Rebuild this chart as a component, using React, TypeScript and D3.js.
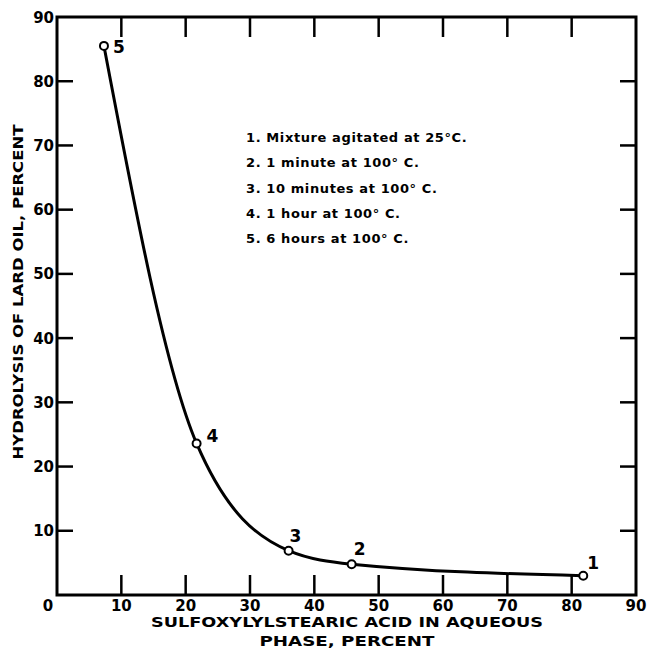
import React, { useRef, useEffect } from "react";
import * as d3 from "d3";

// points
const xValues = [81.8, 45.8, 36.0, 21.7, 7.3];
const yValues = [3.0, 4.8, 6.9, 23.6, 85.5];
const pointLabels = ["1", "2", "3", "4", "5"];

const xTicks = [0, 10, 20, 30, 40, 50, 60, 70, 80, 90];
const yTicks = [10, 20, 30, 40, 50, 60, 70, 80, 90];

const legendLines = [
  "1. Mixture agitated at 25°C.",
  "2. 1 minute at 100° C.",
  "3. 10 minutes at 100° C.",
  "4. 1 hour at 100° C.",
  "5. 6 hours at 100° C.",
];

const xTitle = ["SULFOXYLYLSTEARIC ACID IN AQUEOUS", "PHASE, PERCENT"];
const yTitle = "HYDROLYSIS OF LARD OIL, PERCENT";

const App = () => {
  const svgRef = useRef(null);

  useEffect(() => {
    const svg = d3.select(svgRef.current);
    svg.selectAll("*").remove();
    const width = 650;
    const height = 652;
    const margin = { top: 17, right: 14, bottom: 57, left: 57 };
    const font = "DejaVu Sans, sans-serif";

    svg.attr("width", width).attr("height", height);

    const x = d3.scaleLinear().domain([0, 90]).range([margin.left, width - margin.right]);
    const y = d3.scaleLinear().domain([0, 90]).range([height - margin.bottom, margin.top]);

    const inner = (t) => t > 0 && t < 90;

    // frame
    svg
      .append("rect")
      .attr("x", x(0))
      .attr("y", y(90))
      .attr("width", x(90) - x(0))
      .attr("height", y(0) - y(90))
      .attr("fill", "none")
      .attr("stroke", "#000")
      .attr("stroke-width", 3);

    // inward ticks on all four sides
    const xt = xTicks.filter(inner);
    const yt = yTicks.filter(inner);
    const ticks = svg.append("g").attr("stroke", "#000").attr("stroke-width", 2.5);
    xt.forEach((t) => {
      ticks.append("line").attr("x1", x(t)).attr("x2", x(t)).attr("y1", y(0)).attr("y2", y(0) - 20);
      ticks.append("line").attr("x1", x(t)).attr("x2", x(t)).attr("y1", y(90)).attr("y2", y(90) + 20);
    });
    yt.forEach((t) => {
      ticks.append("line").attr("y1", y(t)).attr("y2", y(t)).attr("x1", x(0)).attr("x2", x(0) + 16);
      ticks.append("line").attr("y1", y(t)).attr("y2", y(t)).attr("x1", x(90)).attr("x2", x(90) - 16);
    });

    // tick labels
    svg
      .append("g")
      .selectAll("text")
      .data(xTicks)
      .enter()
      .append("text")
      .attr("x", (d) => (d === 0 ? x(d) - 9 : x(d)))
      .attr("y", y(0) + 16)
      .attr("text-anchor", "middle")
      .attr("font-family", font)
      .attr("font-weight", "bold")
      .attr("font-size", 15)
      .text((d) => d);

    svg
      .append("g")
      .selectAll("text")
      .data(yTicks)
      .enter()
      .append("text")
      .attr("x", x(0) - 3)
      .attr("y", (d) => y(d) + 5.5)
      .attr("text-anchor", "end")
      .attr("font-family", font)
      .attr("font-weight", "bold")
      .attr("font-size", 15)
      .text((d) => d);

    // axis titles
    xTitle.forEach((line, i) => {
      svg
        .append("text")
        .attr("x", 347)
        .attr("y", 627 + i * 19)
        .attr("text-anchor", "middle")
        .attr("font-family", font)
        .attr("font-weight", "bold")
        .attr("font-size", 14)
        .attr("textLength", i === 0 ? 392 : 175)
        .attr("lengthAdjust", "spacingAndGlyphs")
        .text(line);
    });

    svg
      .append("text")
      .attr("transform", "translate(23,292) rotate(-90)")
      .attr("text-anchor", "middle")
      .attr("font-family", font)
      .attr("font-weight", "bold")
      .attr("font-size", 14)
      .attr("textLength", 335)
      .attr("lengthAdjust", "spacingAndGlyphs")
      .text(yTitle);

    // curve
    const pts = xValues.map((v, i) => [v, yValues[i]]).sort((a, b) => a[0] - b[0]);
    const line = d3
      .line()
      .x((d) => x(d[0]))
      .y((d) => y(d[1]))
      .curve(d3.curveMonotoneX);

    svg
      .append("path")
      .attr("d", line(pts))
      .attr("fill", "none")
      .attr("stroke", "#000")
      .attr("stroke-width", 3);

    svg
      .append("g")
      .selectAll("circle")
      .data(xValues)
      .enter()
      .append("circle")
      .attr("cx", (d) => x(d))
      .attr("cy", (d, i) => y(yValues[i]))
      .attr("r", 4)
      .attr("fill", "#fff")
      .attr("stroke", "#000")
      .attr("stroke-width", 2);

    // point numbers
    const offsets = [
      [4, -7],
      [2, -9],
      [1, -9],
      [10, -1],
      [9, 7],
    ];
    svg
      .append("g")
      .selectAll("text")
      .data(pointLabels)
      .enter()
      .append("text")
      .attr("x", (d, i) => x(xValues[i]) + offsets[i][0])
      .attr("y", (d, i) => y(yValues[i]) + offsets[i][1])
      .attr("font-family", font)
      .attr("font-size", 17)
      .attr("font-weight", "bold")
      .text((d) => d);

    // legend
    svg
      .append("g")
      .selectAll("text")
      .data(legendLines)
      .enter()
      .append("text")
      .attr("x", 246)
      .attr("y", (d, i) => 142 + i * 25.3)
      .attr("font-family", font)
      .attr("font-weight", "bold")
      .attr("font-size", 13)
      .attr("letter-spacing", 0.6)
      .text((d) => d);
  }, []);

  return (
    <svg ref={svgRef} style={{ position: "absolute", left: 0, top: 0 }}></svg>
  );
};

export default App;
